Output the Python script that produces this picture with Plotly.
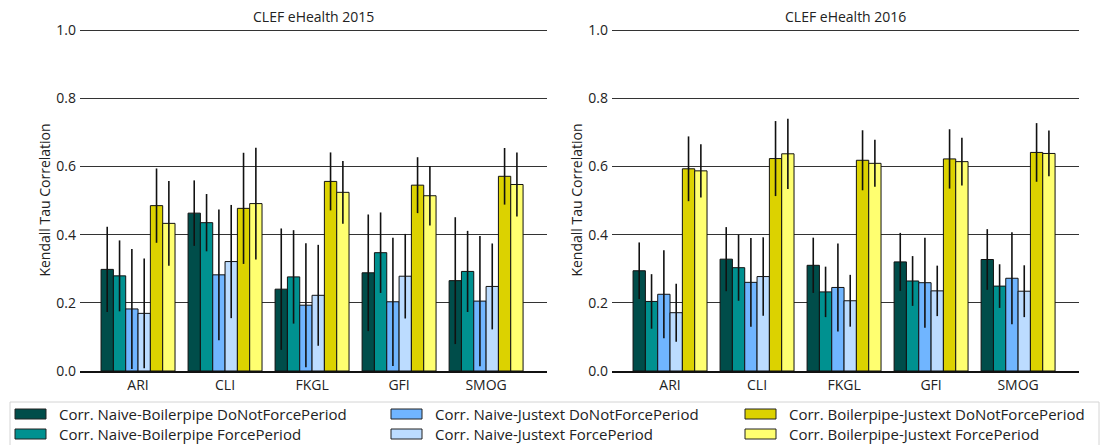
import plotly.graph_objects as go

categories = ["ARI", "CLI", "FKGL", "GFI", "SMOG"]
series_names = [
    "Corr. Naive-Boilerpipe DoNotForcePeriod",
    "Corr. Naive-Boilerpipe ForcePeriod",
    "Corr. Naive-Justext DoNotForcePeriod",
    "Corr. Naive-Justext ForcePeriod",
    "Corr. Boilerpipe-Justext DoNotForcePeriod",
    "Corr. Boilerpipe-Justext ForcePeriod",
]
colors = ["#004d4a", "#009190", "#70b5ff", "#bcdcff", "#dcd200", "#ffff70"]

# CLEF eHealth 2015: values per series (ARI, CLI, FKGL, GFI, SMOG)
v2015_nb_dnfp = [0.298, 0.463, 0.240, 0.288, 0.265]
v2015_nb_fp = [0.279, 0.435, 0.276, 0.347, 0.292]
v2015_nj_dnfp = [0.182, 0.282, 0.193, 0.203, 0.205]
v2015_nj_fp = [0.169, 0.321, 0.222, 0.278, 0.248]
v2015_bj_dnfp = [0.485, 0.477, 0.556, 0.545, 0.571]
v2015_bj_fp = [0.433, 0.491, 0.524, 0.514, 0.547]
e2015_nb_dnfp = [0.125, 0.096, 0.178, 0.171, 0.186]
e2015_nb_fp = [0.104, 0.084, 0.137, 0.118, 0.119]
e2015_nj_dnfp = [0.176, 0.192, 0.182, 0.188, 0.191]
e2015_nj_fp = [0.161, 0.166, 0.148, 0.124, 0.126]
e2015_bj_dnfp = [0.109, 0.163, 0.085, 0.082, 0.083]
e2015_bj_fp = [0.124, 0.164, 0.092, 0.087, 0.094]

# CLEF eHealth 2016
v2016_nb_dnfp = [0.294, 0.328, 0.310, 0.320, 0.327]
v2016_nb_fp = [0.204, 0.303, 0.232, 0.264, 0.249]
v2016_nj_dnfp = [0.225, 0.260, 0.245, 0.259, 0.272]
v2016_nj_fp = [0.171, 0.277, 0.206, 0.235, 0.234]
v2016_bj_dnfp = [0.593, 0.623, 0.618, 0.622, 0.641]
v2016_bj_fp = [0.587, 0.637, 0.609, 0.614, 0.638]
e2016_nb_dnfp = [0.083, 0.094, 0.081, 0.085, 0.089]
e2016_nb_fp = [0.080, 0.097, 0.074, 0.073, 0.064]
e2016_nj_dnfp = [0.129, 0.130, 0.129, 0.132, 0.135]
e2016_nj_fp = [0.085, 0.115, 0.076, 0.074, 0.076]
e2016_bj_dnfp = [0.095, 0.110, 0.088, 0.087, 0.086]
e2016_bj_fp = [0.078, 0.103, 0.069, 0.070, 0.067]

y_ticks = [0.0, 0.2, 0.4, 0.6, 0.8, 1.0]
y_ticklabels = ["0.0", "0.2", "0.4", "0.6", "0.8", "1.0"]
panel_titles = ["CLEF eHealth 2015", "CLEF eHealth 2016"]

vals2015 = [v2015_nb_dnfp, v2015_nb_fp, v2015_nj_dnfp, v2015_nj_fp, v2015_bj_dnfp, v2015_bj_fp]
errs2015 = [e2015_nb_dnfp, e2015_nb_fp, e2015_nj_dnfp, e2015_nj_fp, e2015_bj_dnfp, e2015_bj_fp]
vals2016 = [v2016_nb_dnfp, v2016_nb_fp, v2016_nj_dnfp, v2016_nj_fp, v2016_bj_dnfp, v2016_bj_fp]
errs2016 = [e2016_nb_dnfp, e2016_nb_fp, e2016_nj_dnfp, e2016_nj_fp, e2016_bj_dnfp, e2016_bj_fp]

W, H = 1102, 445
ML, MR, MT, MB = 80, 23, 29, 74
PW = W - ML - MR
PH = H - MT - MB


def px_x(px):
    return (px - ML) / PW


def px_y(py):
    return (H - MB - py) / PH


FONT = "Open Sans, Noto Sans, sans-serif"
fig = go.Figure()

for vals, errs, xa, ya in [(vals2015, errs2015, "x", "y"), (vals2016, errs2016, "x2", "y2")]:
    for i in range(6):
        fig.add_trace(go.Bar(
            x=categories, y=vals[i], name=series_names[i],
            marker=dict(color=colors[i], line=dict(color="#111", width=1)),
            error_y=dict(type="data", array=errs[i], color="#111", thickness=1.6, width=0),
            xaxis=xa, yaxis=ya, showlegend=False, offsetgroup=str(i),
        ))

axis_common_y = dict(
    range=[0, 1.003], tickvals=y_ticks, ticktext=y_ticklabels,
    showgrid=True, gridcolor="#333", gridwidth=1, zeroline=False,
    showline=False, ticks="", ticklabelstandoff=3,
    tickfont=dict(family=FONT, size=14, color="#222"),
    title=dict(text="Kendall Tau Correlation", font=dict(family=FONT, size=14, color="#222"), standoff=2),
)
axis_common_x = dict(
    range=[-0.667, 4.70], showline=True, linecolor="#111", linewidth=1.5,
    ticks="", tickfont=dict(family=FONT, size=14, color="#222"), showgrid=False,
)

x1_end = px_x(547)
x2_start = px_x(612)
fig.update_layout(
    width=W, height=H, margin=dict(l=ML, r=MR, t=MT, b=MB),
    plot_bgcolor="white", paper_bgcolor="white",
    barmode="group", bargap=0.15, bargroupgap=0,
    showlegend=False,
    xaxis=dict(domain=[0, x1_end], anchor="y", **axis_common_x),
    xaxis2=dict(domain=[x2_start, 1], anchor="y2", **axis_common_x),
    yaxis=dict(anchor="x", **axis_common_y),
    yaxis2=dict(anchor="x2", **axis_common_y),
    font=dict(family=FONT, color="#222"),
)

annotations = []
for t, cx in zip(panel_titles, [(0 + x1_end) / 2, (x2_start + 1) / 2]):
    annotations.append(dict(text=t, x=cx, y=px_y(17), xref="paper", yref="paper",
                            showarrow=False, xanchor="center", yanchor="middle",
                            font=dict(family=FONT, size=14, color="#222")))

shapes = []
# legend frame
shapes.append(dict(type="rect", xref="paper", yref="paper",
                   x0=px_x(10), x1=px_x(1099), y0=px_y(402), y1=px_y(455),
                   line=dict(color="#d4d4d4", width=1), fillcolor="rgba(255,255,255,0)", layer="above"))
col_sym_x = [15, 391, 745]
col_txt_x = [58, 434, 788]
row_y = [414, 434]
for i, name in enumerate(series_names):
    col, row = i // 2, i % 2
    shapes.append(dict(type="rect", xref="paper", yref="paper",
                       x0=px_x(col_sym_x[col]), x1=px_x(col_sym_x[col] + 31),
                       y0=px_y(row_y[row] - 5), y1=px_y(row_y[row] + 5),
                       line=dict(color="#222", width=1), fillcolor=colors[i], layer="above"))
    annotations.append(dict(text=name, x=px_x(col_txt_x[col]), y=px_y(row_y[row]),
                            xref="paper", yref="paper", showarrow=False,
                            xanchor="left", yanchor="middle", borderpad=0,
                            font=dict(family=FONT, size=15, color="#222")))

fig.update_layout(annotations=annotations, shapes=shapes)
fig.write_html("out.html")
